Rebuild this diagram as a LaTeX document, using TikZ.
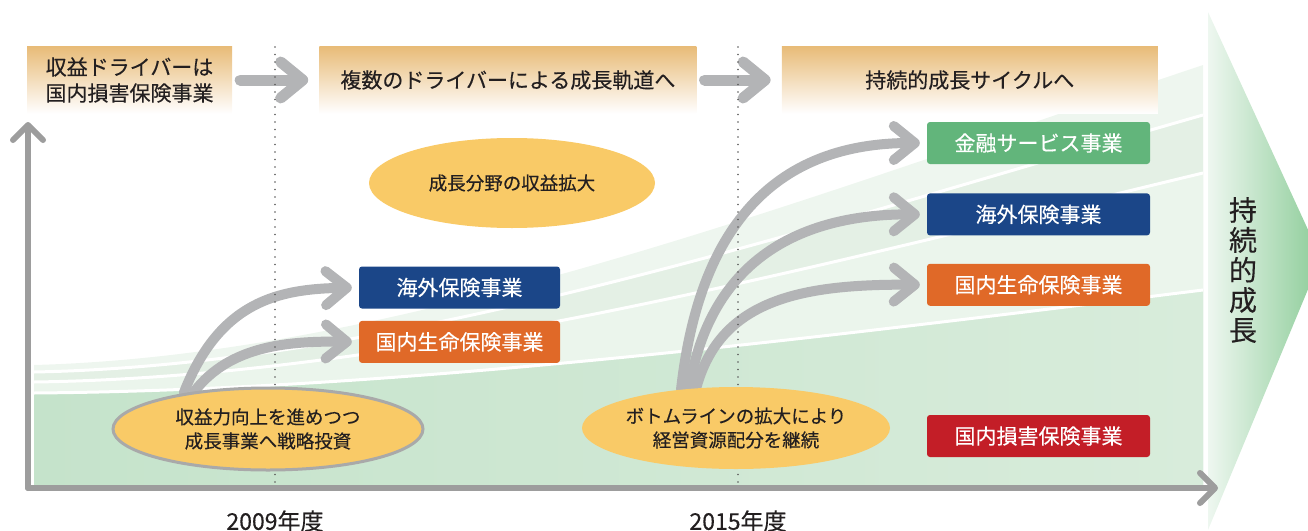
\documentclass[tikz,border=0pt]{standalone}
\usepackage{fontspec}
\setmainfont{Noto Sans CJK JP}[FakeBold=0.3]
\usetikzlibrary{positioning, arrows.meta, shapes.geometric}

\definecolor{ink}{HTML}{231F20}
\definecolor{bannertop}{HTML}{E8BC78}
\definecolor{arrowgray}{HTML}{B3B4B6}
\definecolor{axisgray}{HTML}{9D9D9D}
\definecolor{dotgray}{HTML}{5A5A5A}
\definecolor{ovalfill}{HTML}{F9CA67}
\definecolor{ovalline}{HTML}{A9A9A9}
\definecolor{bizblue}{HTML}{1B4688}
\definecolor{bizorange}{HTML}{E06928}
\definecolor{bizgreen}{HTML}{62B57B}
\definecolor{bizred}{HTML}{C31E27}
\definecolor{bandA}{HTML}{EEF6EF}
\definecolor{bandB}{HTML}{E4F0E5}
\definecolor{bandC}{HTML}{EBF5EC}
\definecolor{bandDl}{HTML}{C5E3CB}
\definecolor{bandDr}{HTML}{D8ECDB}
\definecolor{growl}{HTML}{EEF7F0}
\definecolor{growr}{HTML}{8CCC98}

\pgfdeclarelayer{bands}
\pgfdeclarelayer{links}
\pgfsetlayers{bands,links,main}

\begin{document}
\begin{tikzpicture}[
    x=1pt, y=-1pt,
    every node/.style={text=ink, inner sep=0pt},
    banner/.style={minimum height=67pt, top color=bannertop, bottom color=white, align=center, font=\fontsize{21}{26}\selectfont},
    bizbox/.style={rounded corners=3pt, minimum width=223pt, minimum height=42pt, text=white, font=\fontsize{21}{26}\selectfont},
    oval/.style={ellipse, fill=ovalfill},
    ovaltext/.style={align=center, text=ink, font=\fontsize{18.5}{24}\selectfont},
    stride/.style={draw=arrowgray, line width=11pt, line cap=round, -{Straight Barb[length=22pt, width=36pt, round]}, shorten <=8pt, shorten >=11pt},
    branch/.style={draw=arrowgray, line width=10pt, line cap=round, -{Straight Barb[length=21pt, width=34pt, round]}, shorten >=7pt},
    axis/.style={draw=axisgray, line width=6pt, line cap=round, -{Straight Barb[length=15pt, width=30pt, round]}},
    milestone/.style={draw=dotgray, line width=1.6pt, line cap=round, dash pattern=on 0pt off 7.5pt}
]
\useasboundingbox (0,0) rectangle (1308,530);

\begin{pgfonlayer}{bands}
\fill[bandA] (34,365) .. controls (400,355) and (800,200) .. (1203,65) -- (1203,488) -- (34,488) -- cycle;
\fill[bandB] (34,372) .. controls (400,365) and (800,230) .. (1203,115) -- (1203,488) -- (34,488) -- cycle;
\fill[bandC] (34,382) .. controls (400,377) and (800,270) .. (1203,173) -- (1203,488) -- (34,488) -- cycle;
\shade[left color=bandDl, right color=bandDr] (34,393) .. controls (400,390) and (800,340) .. (1203,290) -- (1203,488) -- (34,488) -- cycle;
\draw[white, line width=3pt] (34,372) .. controls (400,365) and (800,230) .. (1203,115);
\draw[white, line width=3pt] (34,382) .. controls (400,377) and (800,270) .. (1203,173);
\draw[white, line width=3pt] (34,393) .. controls (400,390) and (800,340) .. (1203,290);
\shade[left color=growl, right color=growr] (1208,12) -- (1321,258) -- (1208,530) -- cycle;

\coordinate (origin) at (28,488);
\coordinate (ytip) at (28,122);
\coordinate (xtip) at (1218,488);
\draw[axis] (origin) -- (ytip);
\draw[axis] (origin) -- (xtip);
\end{pgfonlayer}

\node[banner, minimum width=205pt] (drv1) at (129.5,80) {収益ドライバーは\\国内損害保険事業};
\node[banner, minimum width=377pt, right=87pt of drv1] (drv2) {複数のドライバーによる成長軌道へ};
\node[banner, minimum width=376pt, right=85pt of drv2] (drv3) {持続的成長サイクルへ};

\node[oval, minimum width=286pt, minimum height=90pt, label={[ovaltext]center:成長分野の収益拡大}] (yield) at (512,183) {};
\node[oval, draw=ovalline, line width=3pt, minimum width=310pt, minimum height=82pt, label={[ovaltext]center:{収益力向上を進めつつ\\成長事業へ戦略投資}}] (invest) at (268,429) {};
\node[oval, minimum width=308pt, minimum height=82pt, label={[ovaltext]center:{ボトムラインの拡大により\\経営資源配分を継続}}] (bottomline) at (736,428) {};

\node[bizbox, fill=bizblue, minimum width=201pt] (kaigaiA) at (459.5,287.5) {海外保険事業};
\node[bizbox, fill=bizorange, minimum width=201pt, below=12pt of kaigaiA] (seimeiA) {国内生命保険事業};

\node[bizbox, fill=bizgreen] (kinyu) at (1038.5,143) {金融サービス事業};
\node[bizbox, fill=bizblue, below=29pt of kinyu] (kaigaiB) {海外保険事業};
\node[bizbox, fill=bizorange, below=28pt of kaigaiB] (seimeiB) {国内生命保険事業};
\node[bizbox, fill=bizred] (songai) at (1038.5,436) {国内損害保険事業};

\node[font=\fontsize{23}{26}\selectfont] (fy2009) at (275,521) {2009年度};
\node[font=\fontsize{23}{26}\selectfont] (fy2015) at (738,521) {2015年度};
\node[font=\fontsize{28}{30}\selectfont, align=center] (sustain) at (1243,270) {持\\続\\的\\成\\長};

\begin{pgfonlayer}{links}
\draw[stride] (drv1) -- (drv2);
\draw[stride] (drv2) -- (drv3);
\draw[branch] (invest.157) .. controls (220,300) and (280,289) .. (kaigaiA.west);
\draw[branch] (invest.153) .. controls (230,345) and (290,341) .. (seimeiA.west);
\draw[branch] (bottomline.145) .. controls (700,220) and (780,143) .. (kinyu.west);
\draw[branch] (bottomline.140) .. controls (710,260) and (800,214) .. (kaigaiB.west);
\draw[branch] (bottomline.135) .. controls (720,300) and (800,284) .. (seimeiB.west);
\draw[milestone] (275,47) -- (fy2009.north |- origin);
\draw[milestone] (738,47) -- (fy2015.north |- origin);
\end{pgfonlayer}
\end{tikzpicture}
\end{document}
